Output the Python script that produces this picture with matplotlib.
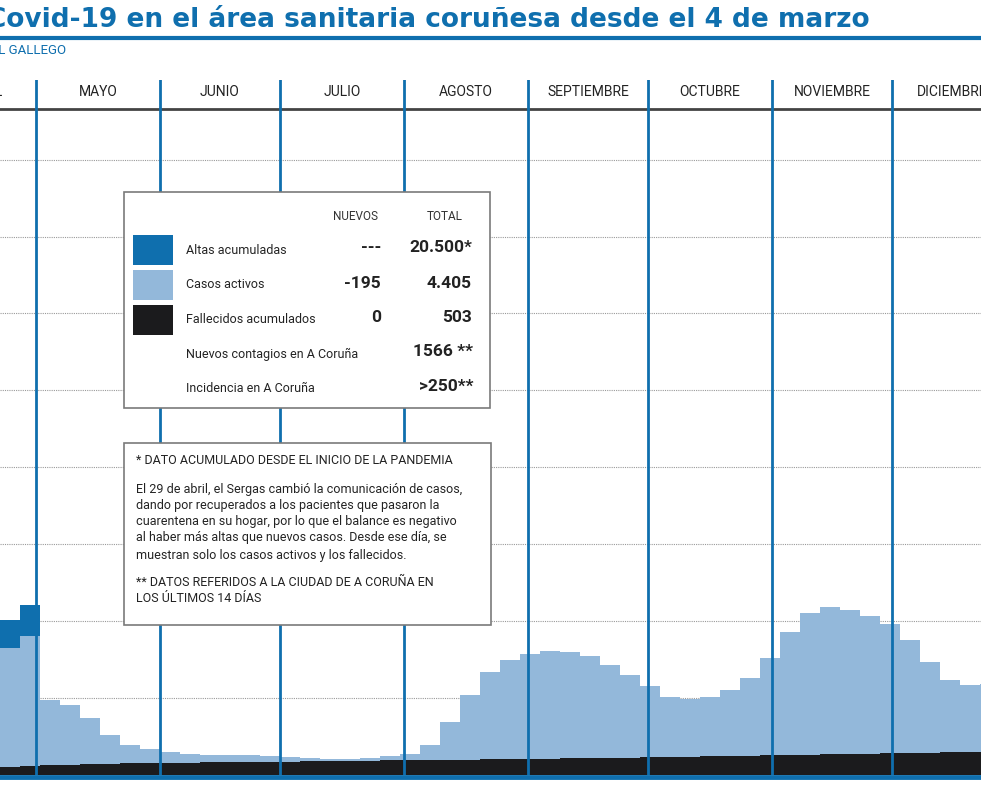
import numpy as np
import matplotlib
matplotlib.use("Agg")
import matplotlib.pyplot as plt
from matplotlib.patches import Rectangle

# days counted from 22 April; one value every 5 days
day_step = 5
altas = [364, 403] + [0] * 48
activos = [1547, 1690, 845, 780, 598, 377, 234, 182, 143, 117,
           91, 91, 91, 78, 65, 39, 26, 26, 39, 52,
           78, 195, 494, 845, 1131, 1287, 1365, 1404, 1378, 1326,
           1209, 1079, 923, 780, 754, 767, 858, 1014, 1261, 1599,
           1846, 1911, 1872, 1794, 1677, 1469, 1183, 936, 871, 884]
fallecidos = [104, 117, 130, 130, 143, 143, 156, 156, 156, 156,
              169, 169, 169, 169, 169, 182, 182, 182, 182, 195,
              195, 195, 195, 195, 208, 208, 208, 208, 221, 221,
              221, 221, 234, 234, 234, 247, 247, 247, 260, 260,
              260, 273, 273, 273, 286, 286, 286, 299, 299, 299]
meses = ["ABRIL", "MAYO", "JUNIO", "JULIO", "AGOSTO", "SEPTIEMBRE",
         "OCTUBRE", "NOVIEMBRE", "DICIEMBRE"]
inicio_mes = [-21, 9, 40, 70, 101, 132, 162, 193, 223, 254]

DARK = "#0f6fae"
LIGHT = "#93b8da"
BLACK = "#1b1b1d"
W, H = 981, 790

fig = plt.figure(figsize=(W / 100, H / 100), dpi=100)

def px(x, y):
    return x / W, 1 - y / H

# axes: from y=80 to y=775 px, full width
ax = fig.add_axes([0, 1 - 775 / H, 1, (775 - 80) / H])
ax.set_xlim(0, 245.25)
ax.set_ylim(0, (775 - 80) * 13)
ax.axis("off")

x = np.arange(len(activos)) * day_step
fall = np.array(fallecidos)
act = np.array(activos)
ax.bar(x, fall, width=day_step, align="edge", color=BLACK, linewidth=0, zorder=2)
ax.bar(x, act, bottom=fall, width=day_step, align="edge", color=LIGHT, linewidth=0, zorder=2)
ax.bar(x, altas, bottom=fall + act, width=day_step, align="edge", color=DARK, linewidth=0, zorder=2)

for g in range(1, 9):
    ax.axhline(g * 1000, color="#9a9a9a", lw=0.8, ls=(0, (1, 1)), zorder=1)
ax.axhline((775 - 109) * 13, color="#444444", lw=2, zorder=3)
ax.axhline(-30, color=DARK, lw=3.5, zorder=4, clip_on=False)

for i, m in enumerate(meses):
    if i > 0:
        ax.axvline(inicio_mes[i], color=DARK, lw=2, zorder=3)
    centro = (inicio_mes[i] + inicio_mes[i + 1]) / 2
    if i == 0:
        centro = -4
    if i == len(meses) - 1:
        centro = 238
    ax.text(centro, (775 - 92) * 13, m, ha="center", va="center",
            fontsize=10, family="Roboto", color="#222222")

# title
fig.text(*px(870, 20), "Casos de Covid-19 en el área sanitaria coruñesa desde el 4 de marzo",
         ha="right", va="center", fontsize=19, fontweight="bold", family="DejaVu Sans", color=DARK)
fig.add_artist(plt.Line2D([0, 1], [1 - 38 / H] * 2, color=DARK, lw=3))
fig.text(*px(66, 50), "EL IDEAL GALLEGO", ha="right", va="center",
         fontsize=9.5, family="Roboto", color=DARK)

# legend box
def caja(x0, y0, x1, y1):
    fig.add_artist(Rectangle(px(x0, y1), (x1 - x0) / W, (y1 - y0) / H,
                             transform=fig.transFigure, facecolor="white",
                             edgecolor="#7a7a7a", lw=1.2, zorder=10))

caja(124, 192, 490, 408)
fig.text(*px(356, 216), "NUEVOS", ha="center", va="center", fontsize=8.5, family="Roboto", color="#333", zorder=11)
fig.text(*px(445, 216), "TOTAL", ha="center", va="center", fontsize=8.5, family="Roboto", color="#333", zorder=11)
filas = [("Altas acumuladas", "---", "20.500*", DARK, 250),
         ("Casos activos", "-195", "4.405", LIGHT, 285),
         ("Fallecidos acumulados", "0", "503", BLACK, 320)]
for nombre, nuevo, total, col, y in filas:
    fig.add_artist(Rectangle(px(133, y + 15), 40 / W, 30 / H, transform=fig.transFigure,
                             facecolor=col, lw=0, zorder=11))
    fig.text(*px(186, y), nombre, va="center", fontsize=9, family="Roboto", color="#222", zorder=11)
    fig.text(*px(381, y - 2), nuevo, ha="right", va="center", fontsize=12.5,
             fontweight="bold", family="Roboto", color="#222", zorder=11)
    fig.text(*px(472, y - 2), total, ha="right", va="center", fontsize=12.5,
             fontweight="bold", family="Roboto", color="#222", zorder=11)
fig.text(*px(186, 354), "Nuevos contagios en A Coruña", va="center", fontsize=9, family="Roboto", color="#222", zorder=11)
fig.text(*px(473, 352), "1566 **", ha="right", va="center", fontsize=12.5, fontweight="bold", family="Roboto", color="#222", zorder=11)
fig.text(*px(186, 389), "Incidencia en A Coruña", va="center", fontsize=9, family="Roboto", color="#222", zorder=11)
fig.text(*px(473, 387), ">250**", ha="right", va="center", fontsize=12.5, fontweight="bold", family="Roboto", color="#222", zorder=11)

# note box
caja(124, 443, 491, 625)
nota = [("* DATO ACUMULADO DESDE EL INICIO DE LA PANDEMIA", 461),
        ("El 29 de abril, el Sergas cambió la comunicación de casos,", 490),
        ("dando por recuperados a los pacientes que pasaron la", 506),
        ("cuarentena en su hogar, por lo que el balance es negativo", 522),
        ("al haber más altas que nuevos casos. Desde ese día, se", 538),
        ("muestran solo los casos activos y los fallecidos.", 556),
        ("** DATOS REFERIDOS A LA CIUDAD DE A CORUÑA EN", 582),
        ("LOS ÚLTIMOS 14 DÍAS", 599)]
for t, y in nota:
    fig.text(*px(136, y), t, va="center", fontsize=9, family="Roboto",
             color="#222", zorder=11)

fig.savefig("out.png", dpi=100)
